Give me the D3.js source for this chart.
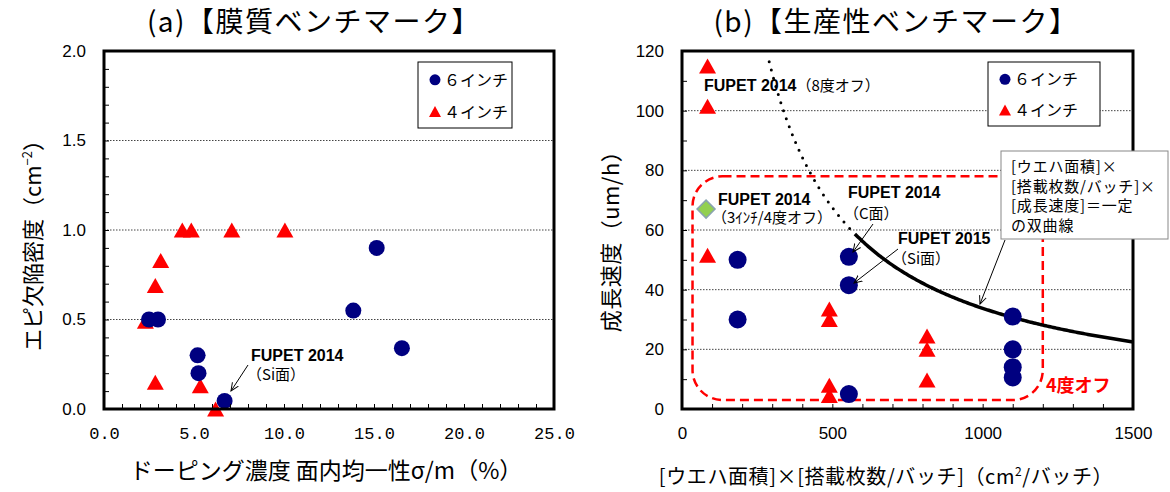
<!DOCTYPE html>
<html>
<head>
<meta charset="utf-8">
<script src="https://cdn.jsdelivr.net/npm/d3@7"></script>
<style>
  body { margin: 0; background: #fff; }
  svg { display: block; }
</style>
</head>
<body>
<svg id="chart" width="1170" height="492"></svg>
<script>
// ---- (a) 膜質ベンチマーク ----
const aCircles = [[2.5, 0.5], [3.0, 0.5], [5.2, 0.3], [5.25, 0.2], [6.7, 0.045], [13.85, 0.55], [15.15, 0.9], [16.55, 0.34]];
const aTriangles = [[4.35, 1.0], [4.85, 1.0], [7.1, 1.0], [10.05, 1.0], [3.15, 0.83], [2.85, 0.69], [2.3, 0.49], [2.85, 0.15], [5.35, 0.13], [6.2, 0.0]];
const aXTicks = [0, 5, 10, 15, 20, 25];
const aYTicks = [0, 0.5, 1.0, 1.5, 2.0];
const aGrid = [0.5, 1.0, 1.5];

// ---- (b) 生産性ベンチマーク ----
const bCircles = [[185, 50], [185, 30], [555, 51], [555, 41.5], [555, 5], [1100, 31], [1100, 20], [1100, 14], [1100, 10.6]];
const bTriangles = [[85, 115], [85, 101.5], [85, 51.5], [490, 33.5], [490, 30], [490, 8], [490, 4.5], [815, 24.5], [815, 20], [815, 9.7]];
const bDiamond = [[80, 67]];
const bXTicks = [0, 500, 1000, 1500];
const bYTicks = [0, 20, 40, 60, 80, 100, 120];
const bGrid = [20, 40, 60, 80, 100];
const curveK = 33750;            // 面積×枚数×速度 = 一定
const curveDotted = [290, 575];
const curveSolid = [575, 1500];
const offBox = [35, 1200, 3, 78]; // x0, x1, y0, y1 (4度オフ)

const legendLabels = ['６インチ', '４インチ'];
const calloutLines = ['[ウエハ面積]×', '[搭載枚数/バッチ]×', '[成長速度]＝一定', 'の双曲線'];

const JP = '"Noto Sans CJK JP", sans-serif';
const NUM = '"Liberation Sans", Arial, sans-serif';
const NAVY = '#000080';
const RED = '#ff0000';

const svg = d3.select('#chart');

svg.append('defs').append('marker')
    .attr('id', 'arr')
    .attr('viewBox', '0 0 10 10')
    .attr('refX', 9).attr('refY', 5)
    .attr('markerWidth', 9).attr('markerHeight', 9)
    .attr('markerUnits', 'userSpaceOnUse')
    .attr('orient', 'auto')
    .append('path')
    .attr('d', 'M0,1 L9,5 L0,9')
    .attr('fill', 'none')
    .attr('stroke', '#000')
    .attr('stroke-width', 1.1);

const tri = (w, h) => `M0,${-h / 2}L${w / 2},${h / 2}L${-w / 2},${h / 2}Z`;
const diamond = s => `M0,${-s}L${s},0L0,${s}L${-s},0Z`;

function panel(o) {
    const x = d3.scaleLinear().domain(o.xDomain).range([o.left, o.right]);
    const y = d3.scaleLinear().domain(o.yDomain).range([o.bottom, o.top]);
    const g = svg.append('g');

    // グリッド線
    g.selectAll('.grid')
        .data(o.grid)
        .enter()
        .append('line')
        .attr('x1', o.left).attr('x2', o.right)
        .attr('y1', d => y(d)).attr('y2', d => y(d))
        .attr('stroke', '#444')
        .attr('stroke-width', 1)
        .attr('stroke-dasharray', '1.5,1.5');

    const layer = svg.append('g');   // 中身
    const top = svg.append('g');     // 枠・目盛

    // 枠
    top.append('rect')
        .attr('x', o.left).attr('y', o.top)
        .attr('width', o.right - o.left).attr('height', o.bottom - o.top)
        .attr('fill', 'none')
        .attr('stroke', '#000')
        .attr('stroke-width', 3);

    // 内向き小目盛
    top.append('g')
        .attr('transform', `translate(0,${o.bottom})`)
        .call(d3.axisBottom(x).tickValues(o.xMinor).tickSize(-5).tickFormat(''))
        .call(s => s.select('.domain').remove())
        .selectAll('line').attr('stroke', '#000');
    top.append('g')
        .attr('transform', `translate(${o.left},0)`)
        .call(d3.axisLeft(y).tickValues(o.yMinor).tickSize(-5).tickFormat(''))
        .call(s => s.select('.domain').remove())
        .selectAll('line').attr('stroke', '#000');

    // 目盛ラベル
    const xl = top.append('g')
        .attr('transform', `translate(0,${o.bottom})`)
        .call(d3.axisBottom(x).tickValues(o.xTicks).tickSize(0).tickPadding(18).tickFormat(o.xFormat));
    xl.select('.domain').remove();
    xl.selectAll('text')
        .attr('font-family', o.xFont)
        .attr('font-size', o.xFontSize)
        .attr('fill', '#000');
    xl.attr('font-family', null).attr('font-size', null);

    const yl = top.append('g')
        .attr('transform', `translate(${o.left},0)`)
        .call(d3.axisLeft(y).tickValues(o.yTicks).tickSize(0).tickPadding(18).tickFormat(o.yFormat));
    yl.select('.domain').remove();
    yl.selectAll('text')
        .attr('font-family', NUM)
        .attr('font-size', 17)
        .attr('fill', '#000');
    yl.attr('font-family', null).attr('font-size', null);

    // タイトル
    svg.append('text')
        .attr('x', o.titleX)
        .attr('y', 32)
        .attr('text-anchor', 'middle')
        .attr('font-family', JP)
        .attr('font-size', 28)
        .attr('letter-spacing', 1.5)
        .text(o.title);

    return { x, y, layer, top };
}

function markers(p, circles, triangles, r, tw, th) {
    p.layer.selectAll(null)
        .data(triangles)
        .enter()
        .append('path')
        .attr('d', tri(tw, th))
        .attr('transform', d => `translate(${p.x(d[0])},${p.y(d[1])})`)
        .attr('fill', RED);
    p.layer.selectAll(null)
        .data(circles)
        .enter()
        .append('circle')
        .attr('cx', d => p.x(d[0]))
        .attr('cy', d => p.y(d[1]))
        .attr('r', r)
        .attr('fill', NAVY);
}

function legend(p, bx, by, bw, bh) {
    const g = p.top.append('g').attr('transform', `translate(${bx},${by})`);
    g.append('rect')
        .attr('width', bw).attr('height', bh)
        .attr('fill', '#fff')
        .attr('stroke', '#000')
        .attr('stroke-width', 1);
    const rows = legendLabels.map((t, i) => ({ t, i, cy: bh * (0.27 + 0.48 * i) }));
    g.selectAll('.lt')
        .data(rows)
        .enter()
        .append('text')
        .attr('x', 26)
        .attr('y', d => d.cy + 6)
        .attr('font-family', JP)
        .attr('font-size', 16)
        .text(d => d.t);
    g.append('circle').attr('cx', 17).attr('cy', rows[0].cy).attr('r', 5.5).attr('fill', NAVY);
    g.append('path').attr('d', tri(12, 11)).attr('transform', `translate(17,${rows[1].cy})`).attr('fill', RED);
}

function arrow(sel, x1, y1, x2, y2) {
    sel.append('line')
        .attr('x1', x1).attr('y1', y1).attr('x2', x2).attr('y2', y2)
        .attr('stroke', '#000')
        .attr('stroke-width', 1)
        .attr('marker-end', 'url(#arr)');
}

function label(sel, x, y, parts) {
    const t = sel.append('text').attr('x', x).attr('y', y);
    parts.forEach(([s, bold]) => {
        t.append('tspan')
            .attr('font-family', bold ? NUM : JP)
            .attr('font-weight', bold ? 'bold' : 'normal')
            .attr('font-size', bold ? 16 : 15)
            .text(s);
    });
    return t;
}

// ===== (a) =====
const pa = panel({
    left: 104, right: 554, top: 51, bottom: 409,
    xDomain: [0, 25], yDomain: [0, 2],
    xTicks: aXTicks, yTicks: aYTicks,
    xMinor: d3.range(0, 25.001, 1), yMinor: d3.range(0, 2.001, 0.1),
    grid: aGrid,
    xFormat: d3.format('.1f'), yFormat: d3.format('.1f'),
    xFont: '"Liberation Mono", monospace', xFontSize: 17,
    title: '(a)【膜質ベンチマーク】', titleX: 314
});
markers(pa, aCircles, aTriangles, 8, 17, 15);
legend(pa, 418, 62, 94, 66);

label(pa.top, 251, 361, [['FUPET 2014', true]]);
label(pa.top, 247, 380, [['（Si面）', false]]);
arrow(pa.top, 248, 365, 231, 391);

// y軸タイトル
const aYT = svg.append('text')
    .attr('transform', 'translate(41,240) rotate(-90)')
    .attr('text-anchor', 'middle')
    .attr('font-family', JP)
    .attr('font-size', 22);
aYT.append('tspan').text('エピ欠陥密度（cm');
aYT.append('tspan').attr('font-size', 13).attr('dy', -9).text('−2');
aYT.append('tspan').attr('dy', 9).text('）');

svg.append('text')
    .attr('x', 326).attr('y', 479)
    .attr('text-anchor', 'middle')
    .attr('font-family', JP)
    .attr('font-size', 23)
    .text('ドーピング濃度 面内均一性σ/m（%）');

// ===== (b) =====
const pb = panel({
    left: 682, right: 1133, top: 51, bottom: 409,
    xDomain: [0, 1500], yDomain: [0, 120],
    xTicks: bXTicks, yTicks: bYTicks,
    xMinor: d3.range(0, 1501, 100), yMinor: d3.range(0, 121, 10),
    grid: bGrid,
    xFormat: d3.format('d'), yFormat: d3.format('d'),
    xFont: NUM, xFontSize: 17,
    title: '(b)【生産性ベンチマーク】', titleX: 896
});

// 4度オフ 領域
pb.layer.append('rect')
    .attr('x', pb.x(offBox[0]))
    .attr('y', pb.y(offBox[3]))
    .attr('width', pb.x(offBox[1]) - pb.x(offBox[0]))
    .attr('height', pb.y(offBox[2]) - pb.y(offBox[3]))
    .attr('rx', 30).attr('ry', 30)
    .attr('fill', 'none')
    .attr('stroke', RED)
    .attr('stroke-width', 2.5)
    .attr('stroke-dasharray', '9,5');

// 双曲線
const hyper = d3.line().x(d => pb.x(d)).y(d => pb.y(curveK / d));
pb.layer.append('path')
    .attr('d', hyper(d3.range(curveDotted[0], curveDotted[1] + 1, 5)))
    .attr('fill', 'none')
    .attr('stroke', '#000')
    .attr('stroke-width', 3)
    .attr('stroke-linecap', 'round')
    .attr('stroke-dasharray', '0,8.5');
pb.layer.append('path')
    .attr('d', hyper(d3.range(curveSolid[0], curveSolid[1] + 1, 5)))
    .attr('fill', 'none')
    .attr('stroke', '#000')
    .attr('stroke-width', 3.5);

pb.layer.selectAll(null)
    .data(bDiamond)
    .enter()
    .append('path')
    .attr('d', diamond(9))
    .attr('transform', d => `translate(${pb.x(d[0])},${pb.y(d[1])})`)
    .attr('fill', '#92d050')
    .attr('stroke', '#8aa4b0')
    .attr('stroke-width', 1.5);
markers(pb, bCircles, bTriangles, 9, 17, 15);
legend(pb, 988, 62, 112, 64);

// 注記
label(pb.top, 704, 91, [['FUPET 2014', true], ['（8度オフ）', false]]);
label(pb.top, 718, 205, [['FUPET 2014', true]]);
label(pb.top, 712, 223, [['（3ｲﾝﾁ/4度オフ）', false]]);
label(pb.top, 848, 198, [['FUPET 2014', true]]);
label(pb.top, 844, 219, [['（C面）', false]]);
label(pb.top, 898, 244, [['FUPET 2015', true]]);
label(pb.top, 892, 264, [['（Si面）', false]]);
arrow(pb.top, 873, 224, 853, 252);
arrow(pb.top, 898, 249, 854, 283);

pb.top.append('text')
    .attr('x', 1046).attr('y', 392)
    .attr('font-family', JP)
    .attr('font-weight', 'bold')
    .attr('font-size', 18)
    .attr('fill', RED)
    .text('4度オフ');

// 吹き出し
pb.top.append('rect')
    .attr('x', 1001).attr('y', 151)
    .attr('width', 167).attr('height', 88)
    .attr('fill', '#fff')
    .attr('stroke', '#888')
    .attr('stroke-width', 1);
pb.top.selectAll('.cl')
    .data(calloutLines)
    .enter()
    .append('text')
    .attr('x', 1011)
    .attr('y', (d, i) => 172 + i * 19.5)
    .attr('font-family', JP)
    .attr('font-size', 15)
    .attr('letter-spacing', 0.8)
    .text(d => d);
arrow(pb.top, 1005, 240, 980, 304);

// 軸タイトル
svg.append('text')
    .attr('transform', 'translate(619,236) rotate(-90)')
    .attr('text-anchor', 'middle')
    .attr('font-family', JP)
    .attr('font-size', 22)
    .attr('letter-spacing', 0.5)
    .text('成長速度（um/h）');

const bXT = svg.append('text')
    .attr('x', 886).attr('y', 484)
    .attr('text-anchor', 'middle')
    .attr('font-family', JP)
    .attr('font-size', 20)
    .attr('letter-spacing', 0.6);
bXT.append('tspan').text('[ウエハ面積]×[搭載枚数/バッチ]（cm');
bXT.append('tspan').attr('font-size', 12).attr('dy', -8).text('2');
bXT.append('tspan').attr('dy', 8).text('/バッチ）');
</script>
</body>
</html>
